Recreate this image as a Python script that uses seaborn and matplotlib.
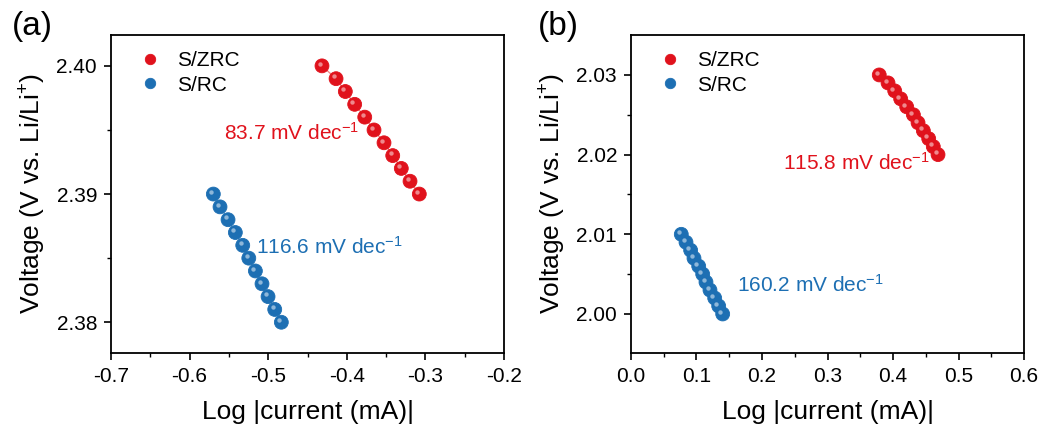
import numpy as np
import pandas as pd
import matplotlib
matplotlib.use("Agg")
import matplotlib.pyplot as plt
import matplotlib.transforms as mtransforms
import seaborn as sns

# ==============================
# DATA
# ==============================
volt_a_zrc = [2.400, 2.399, 2.398, 2.397, 2.396, 2.395, 2.394, 2.393, 2.392, 2.391, 2.390]
logi_a_zrc = [-0.4316, -0.4137, -0.4019, -0.3900, -0.3772, -0.3654, -0.3527, -0.3416, -0.3307, -0.3196, -0.3078]
volt_a_rc = [2.390, 2.389, 2.388, 2.387, 2.386, 2.385, 2.384, 2.383, 2.382, 2.381, 2.380]
logi_a_rc = [-0.5698, -0.5613, -0.5511, -0.5418, -0.5324, -0.5247, -0.5163, -0.5079, -0.5002, -0.4917, -0.4833]

volt_b_zrc = [2.030, 2.029, 2.028, 2.027, 2.026, 2.025, 2.024, 2.023, 2.022, 2.021, 2.020]
logi_b_zrc = [0.3790, 0.3924, 0.4026, 0.4117, 0.4209, 0.4311, 0.4382, 0.4463, 0.4545, 0.4615, 0.4687]
volt_b_rc = [2.010, 2.009, 2.008, 2.007, 2.006, 2.005, 2.004, 2.003, 2.002, 2.001, 2.000]
logi_b_rc = [0.0768, 0.0840, 0.0911, 0.0962, 0.1034, 0.1095, 0.1145, 0.1206, 0.1278, 0.1339, 0.1400]

samples = ["S/ZRC", "S/RC"]
slopes_a = ["83.7", "116.6"]
slopes_b = ["115.8", "160.2"]

RED = "#e0121c"
BLUE = "#1d6fb3"
LINE_RED = "#f08a8a"
LINE_BLUE = "#8fb8de"

sns.set_theme(style="ticks")
plt.rcParams['font.family'] = ['Liberation Sans', 'DejaVu Sans']
plt.rcParams['mathtext.fontset'] = 'custom'
plt.rcParams['mathtext.rm'] = 'Liberation Sans'
plt.rcParams['mathtext.it'] = 'Liberation Sans'
plt.rcParams['text.color'] = 'black'
plt.rcParams['axes.labelcolor'] = 'black'
plt.rcParams['xtick.color'] = 'black'
plt.rcParams['ytick.color'] = 'black'
plt.rcParams['axes.edgecolor'] = 'black'


def make_df(x_zrc, y_zrc, x_rc, y_rc):
    return pd.DataFrame({
        "logi": list(x_zrc) + list(x_rc),
        "volt": list(y_zrc) + list(y_rc),
        "sample": [samples[0]] * len(x_zrc) + [samples[1]] * len(x_rc),
    })


def draw_panel(ax, df, slopes, text_pos, xlim, ylim, xticks, yticks, tag, tag_x):
    for s, lc in zip(samples, [LINE_RED, LINE_BLUE]):
        sub = df[df["sample"] == s]
        sns.lineplot(data=sub, x="logi", y="volt", ax=ax, color=lc, lw=1.0,
                     sort=False, zorder=1, legend=False)
    sns.scatterplot(data=df, x="logi", y="volt", hue="sample", palette=[RED, BLUE],
                    s=100, edgecolor="face", linewidth=0.6, ax=ax, zorder=3)
    # small glossy highlight to mimic shaded spheres
    hl = mtransforms.offset_copy(ax.transData, fig=ax.figure, x=-1.6, y=1.6, units="points")
    ax.scatter(df["logi"], df["volt"], s=10, color="white", alpha=0.5,
               linewidths=0, transform=hl, zorder=4)

    ax.set_xlim(*xlim)
    ax.set_ylim(*ylim)
    ax.set_xticks(xticks)
    ax.set_yticks(yticks)
    ax.set_xticks(np.array(xticks[:-1]) + (xticks[1] - xticks[0]) / 2, minor=True)
    ax.set_yticks(np.array(yticks[:-1]) + (yticks[1] - yticks[0]) / 2, minor=True)
    ax.xaxis.set_major_formatter(plt.FormatStrFormatter("%.1f"))
    ax.yaxis.set_major_formatter(plt.FormatStrFormatter("%.2f"))
    ax.tick_params(axis="both", which="major", direction="out", length=5, width=1.2,
                   labelsize=15, pad=5)
    ax.tick_params(axis="both", which="minor", direction="out", length=3, width=1.0)
    for sp in ax.spines.values():
        sp.set_linewidth(1.3)
        sp.set_visible(True)

    ax.set_xlabel("Log |current (mA)|", fontsize=19, labelpad=10)
    ax.set_ylabel("Voltage (V vs. Li/Li$^{+}$)", fontsize=19, labelpad=6)

    for (tx, ty), sl, c in zip(text_pos, slopes, [RED, BLUE]):
        ax.text(tx, ty, sl + " mV dec$^{-1}$", color=c, fontsize=15, va="center", ha="left")

    ax.legend(loc="upper left", frameon=False, fontsize=15, handletextpad=0.5,
              handlelength=1.6, borderaxespad=0.0, labelspacing=0.25, markerscale=0.75,
              bbox_to_anchor=(0.035, 0.975))
    ax.figure.text(tag_x, 0.975, tag, fontsize=24, ha="left", va="top")


fig = plt.figure(figsize=(10.49, 4.28), dpi=100)
ax_a = fig.add_axes([0.1058, 0.1752, 0.3747, 0.7428])
ax_b = fig.add_axes([0.6015, 0.1752, 0.3747, 0.7428])

df_a = make_df(logi_a_zrc, volt_a_zrc, logi_a_rc, volt_a_rc)
df_b = make_df(logi_b_zrc, volt_b_zrc, logi_b_rc, volt_b_rc)

draw_panel(ax_a, df_a, slopes_a, [(-0.556, 2.3948), (-0.5155, 2.3859)],
           (-0.7, -0.2), (2.3776, 2.4024), [-0.7, -0.6, -0.5, -0.4, -0.3, -0.2],
           [2.38, 2.39, 2.40], "(a)", 0.011)
draw_panel(ax_b, df_b, slopes_b, [(0.2316, 2.0190), (0.1613, 2.0036)],
           (0.0, 0.6), (1.9951, 2.0350), [0.0, 0.1, 0.2, 0.3, 0.4, 0.5, 0.6],
           [2.00, 2.01, 2.02, 2.03], "(b)", 0.513)

fig.savefig("out.png", dpi=100)
